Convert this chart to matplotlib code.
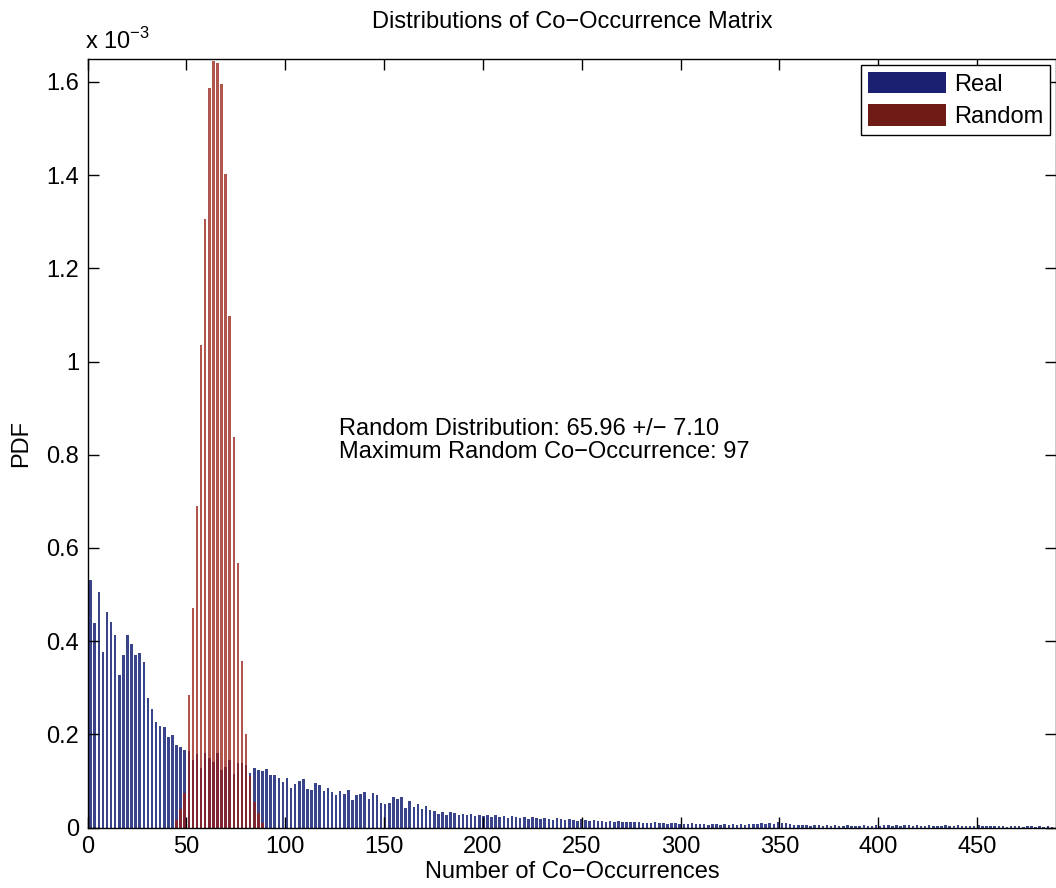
import numpy as np
import matplotlib
matplotlib.use('Agg')
import matplotlib.pyplot as plt
from matplotlib.ticker import FormatStrFormatter, MultipleLocator

plt.rcParams['font.family'] = ['Liberation Sans', 'DejaVu Sans']

# histogram bins (number of co-occurrences)
bin_width = 2.07
first_center = 1.5

# PDF values, in units of 1e-3
real_pdf = [
    0.531, 0.438, 0.505, 0.377, 0.463, 0.441, 0.414, 0.327, 0.371, 0.413,
    0.393, 0.370, 0.375, 0.356, 0.278, 0.255, 0.226, 0.217, 0.215, 0.194,
    0.198, 0.178, 0.172, 0.166, 0.164, 0.146, 0.157, 0.128, 0.160, 0.150,
    0.140, 0.160, 0.124, 0.130, 0.146, 0.115, 0.138, 0.138, 0.134, 0.118,
    0.128, 0.123, 0.122, 0.126, 0.112, 0.112, 0.106, 0.097, 0.107, 0.085,
    0.093, 0.101, 0.105, 0.083, 0.081, 0.096, 0.092, 0.079, 0.086, 0.077,
    0.069, 0.079, 0.072, 0.080, 0.059, 0.071, 0.073, 0.076, 0.062, 0.074,
    0.069, 0.053, 0.050, 0.053, 0.066, 0.062, 0.065, 0.042, 0.057,
    0.045, 0.050, 0.040, 0.046, 0.038,
    0.036, 0.030, 0.034, 0.028, 0.033, 0.031, 0.026, 0.030, 0.027, 0.029,
    0.025, 0.028, 0.024, 0.027, 0.022,
    0.026, 0.023, 0.025, 0.021, 0.024, 0.022, 0.020, 0.023,
    0.019, 0.022, 0.020, 0.018, 0.021, 0.019, 0.017, 0.020, 0.018, 0.016, 0.019,
    0.017, 0.015, 0.018, 0.016, 0.014, 0.017, 0.015, 0.014,
    0.013, 0.015, 0.012, 0.014, 0.012, 0.011, 0.013, 0.011, 0.012, 0.010,
    0.010, 0.009, 0.011, 0.009, 0.010, 0.008, 0.009, 0.010, 0.008,
    0.008, 0.007, 0.009, 0.007, 0.008, 0.007, 0.006, 0.008, 0.007, 0.006,
    0.007, 0.006, 0.008, 0.006, 0.007, 0.006, 0.007, 0.008, 0.007,
    0.009, 0.008, 0.010, 0.008, 0.011, 0.009, 0.010, 0.008,
    0.006, 0.005, 0.006, 0.005, 0.004, 0.005, 0.006, 0.004, 0.005, 0.004,
    0.005, 0.004, 0.003, 0.005, 0.004, 0.003, 0.004, 0.005, 0.003, 0.004,
    0.005, 0.004, 0.005, 0.006, 0.004, 0.005, 0.004, 0.006, 0.005, 0.004,
    0.005, 0.003, 0.004, 0.005, 0.004, 0.003,
    0.004, 0.005, 0.003, 0.004, 0.005, 0.004, 0.003, 0.004, 0.003, 0.005,
    0.004, 0.003, 0.004, 0.003, 0.004, 0.003, 0.002, 0.004, 0.003, 0.003,
    0.002, 0.003, 0.004, 0.002, 0.003, 0.002, 0.003, 0.002,
]

# random distribution occupies bins 21..42
random_first_bin = 21
random_pdf = [
    0.017, 0.039, 0.075, 0.285, 0.471, 0.689, 1.036, 1.305, 1.587, 1.645,
    1.640, 1.596, 1.403, 1.097, 0.838, 0.568, 0.357, 0.200, 0.110, 0.056,
    0.032, 0.010,
]

centers = first_center + bin_width * np.arange(len(real_pdf))
rand_centers = centers[random_first_bin:random_first_bin + len(random_pdf)]

fig = plt.figure(figsize=(10.56, 8.88), dpi=100)
ax = fig.add_axes([0.083, 0.068, 0.917, 0.866])

bw = bin_width * 0.62
ax.bar(centers, real_pdf, width=bw, color='#24307f', alpha=0.9,
       linewidth=0, label='Real')
ax.bar(rand_centers, random_pdf, width=bw, color='#981c14', alpha=0.75,
       linewidth=0, label='Random')

ax.set_xlim(0, 490)
ax.set_ylim(0, 1.65)
ax.xaxis.set_major_locator(MultipleLocator(50))
ax.yaxis.set_major_locator(MultipleLocator(0.2))
ax.yaxis.set_major_formatter(FormatStrFormatter('%g'))
ax.tick_params(direction='in', top=True, right=True, length=8, width=1,
               labelsize=17, pad=6)
for s in ax.spines.values():
    s.set_linewidth(1.0)

ax.set_title('Distributions of Co\u2212Occurrence Matrix', fontsize=17, pad=22)
ax.set_xlabel('Number of Co\u2212Occurrences', fontsize=17, labelpad=2)
ax.set_ylabel('PDF', fontsize=17, labelpad=10)
ax.text(-0.003, 1.006, 'x 10$^{\\mathregular{\u22123}}$', transform=ax.transAxes,
        fontsize=17, ha='left', va='bottom')

ax.text(127, 0.83,
        'Random Distribution: 65.96 +/\u2212 7.10\nMaximum Random Co\u2212Occurrence: 97',
        fontsize=17, ha='left', va='center', linespacing=1.05)

leg = ax.legend(loc='upper right', fontsize=17, fancybox=False,
                edgecolor='black', framealpha=1, handlelength=3.3,
                handleheight=1.05, borderaxespad=0.25, borderpad=0.3,
                labelspacing=0.35, handletextpad=0.35)
leg.get_frame().set_linewidth(1.0)
for h, c in zip(leg.legend_handles, ['#1b2170', '#6e1b16']):
    h.set_alpha(1.0)
    h.set_facecolor(c)

fig.savefig('out.png', dpi=100)
